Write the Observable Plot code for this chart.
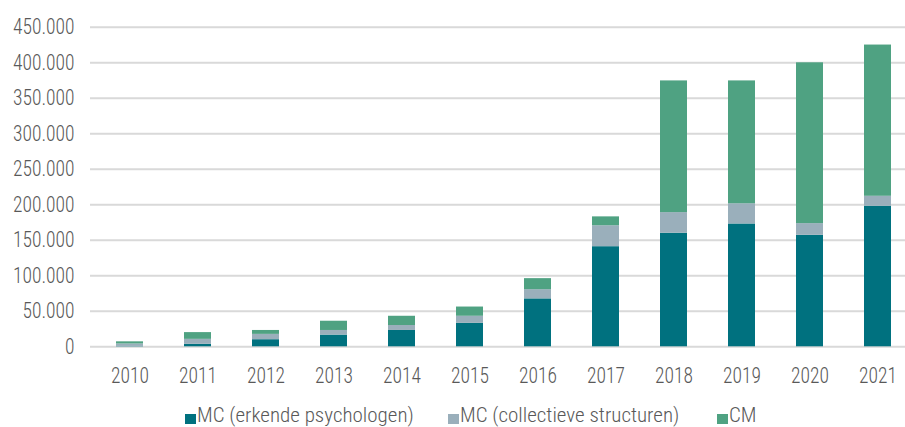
<!DOCTYPE html>
<html>
<head>
<meta charset="utf-8">
<script src="https://cdn.jsdelivr.net/npm/d3@7"></script>
<script src="https://cdn.jsdelivr.net/npm/@observablehq/plot@0.6"></script>
<style>
  html, body { margin: 0; padding: 0; background: #fff; }
  body { width: 905px; height: 427px; overflow: hidden;
    font-family: "Roboto Condensed", "Roboto", sans-serif; font-weight: 300; }
  #legend { position: relative; height: 29px; color: #595959; font-size: 21px; font-weight: 300; }
  .item { position: absolute; top: 5px; display: flex; align-items: flex-start; white-space: nowrap; line-height: 24px; }
  .sw { width: 11px; height: 10px; margin-right: 1px; margin-top: 11px; }
  svg text { font-weight: 300; }
</style>
</head>
<body>
<div id="chart"></div>
<div id="legend"></div>
<script>
const years = ["2010","2011","2012","2013","2014","2015","2016","2017","2018","2019","2020","2021"];
const seriesNames = ["MC (erkende psychologen)", "MC (collectieve structuren)", "CM"];
const mcErkend  = [500, 3500, 10000, 16500, 23000, 33000, 67500, 141000, 160000, 173000, 157000, 198000];
const mcCollect = [3500, 7000, 7500, 6500, 7000, 10000, 13000, 29500, 29000, 28500, 16500, 14000];
const cm        = [3000, 9500, 5500, 13000, 13000, 13000, 15500, 12500, 185500, 173000, 226500, 213000];
const yTicks = [0, 50000, 100000, 150000, 200000, 250000, 300000, 350000, 400000, 450000];
const colors = ["#00717F", "#9AAFBB", "#4FA282"];

const seriesValues = [mcErkend, mcCollect, cm];
const table = [];
seriesNames.forEach((s, si) => years.forEach((y, i) => table.push({year: y, series: s, value: seriesValues[si][i]})));

const fmt = d => d3.format(",")(d).replace(/,/g, ".");

const chart = Plot.plot({
  width: 905,
  height: 398,
  marginLeft: 90,
  marginRight: 0,
  marginTop: 26.8,
  marginBottom: 51.7,
  style: {fontFamily: "'Roboto Condensed', Roboto, sans-serif", fontSize: "19px", color: "#595959", background: "#fff"},
  x: {domain: years, range: [90, 916], paddingInner: 0.607, paddingOuter: 0.3035, label: null},
  y: {domain: [0, 450000], label: null},
  color: {domain: seriesNames, range: colors},
  marks: [
    Plot.ruleY(yTicks, {stroke: "#d9d9d9", strokeWidth: 2}),
    Plot.barY(table, {x: "year", y: "value", fill: "series", order: seriesNames}),
    Plot.axisY({ticks: yTicks, tickFormat: fmt, tickSize: 0, tickPadding: 16, fontSize: 19.5, fill: "#595959"}),
    Plot.axisX({tickSize: 0, tickPadding: 21, fontSize: 19.5, fill: "#595959"})
  ]
});
// slightly taller glyphs, as in the reference
chart.querySelectorAll("text").forEach(t => {
  const tr = t.getAttribute("transform");
  if (tr && tr.startsWith("translate")) t.setAttribute("transform", tr + " scale(1,1.1)");
});
document.getElementById("chart").appendChild(chart);

const legend = document.getElementById("legend");
const lefts = [185, 448, 717];
seriesNames.forEach((s, i) => {
  const it = document.createElement("div");
  it.className = "item";
  it.style.left = lefts[i] + "px";
  it.innerHTML = `<span class="sw" style="background:${colors[i]}"></span><span>${s}</span>`;
  legend.appendChild(it);
});
</script>
</body>
</html>
